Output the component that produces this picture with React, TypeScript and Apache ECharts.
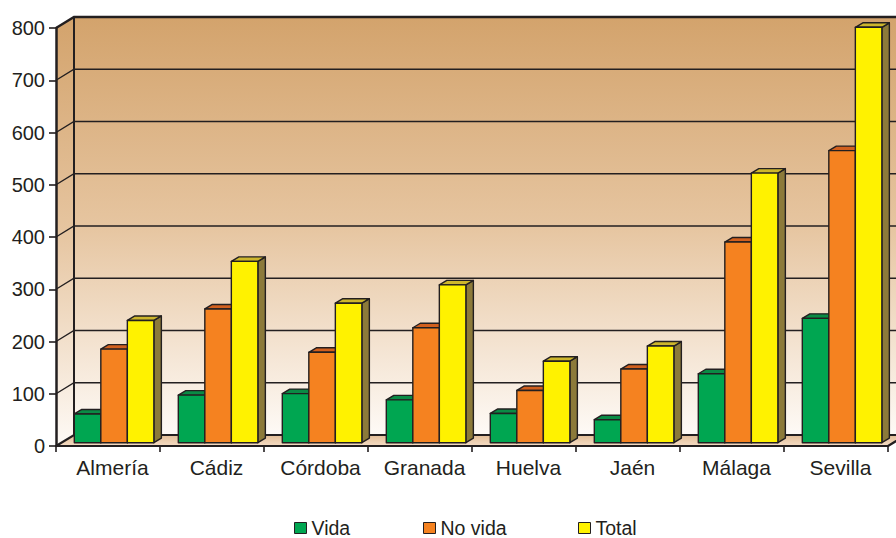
import React, { useEffect, useRef } from "react";
import * as echarts from "echarts";

const categories = ["Almería", "Cádiz", "Córdoba", "Granada", "Huelva", "Jaén", "Málaga", "Sevilla"];
const vida = [55, 91, 94, 82, 56, 44, 132, 238];
const noVida = [179, 256, 173, 220, 100, 141, 384, 559];
const total = [234, 347, 267, 302, 156, 185, 516, 795];
const seriesNames = ["Vida", "No vida", "Total"];
const yTicks = [0, 100, 200, 300, 400, 500, 600, 700, 800];

const FONT = "'Liberation Sans', Arial, Helvetica, sans-serif";
const INK = "#231F20";

const palettes = [
  { front: "#00A651", top: "#0A8B45", side: "#08673A" },
  { front: "#F58220", top: "#D2601E", side: "#A4531C" },
  { front: "#FFF200", top: "#CDB62C", side: "#8C7A3A" },
];

const wallGradient = () =>
  new echarts.graphic.LinearGradient(0, 0, 0, 1, [
    { offset: 0, color: "#D3A36C" },
    { offset: 0.5, color: "#E6C5A0" },
    { offset: 1, color: "#FEFAF6" },
  ]);

export default function App() {
  const ref = useRef<HTMLDivElement>(null);

  useEffect(() => {
    if (!ref.current) return;
    const chart = echarts.init(ref.current, null, { renderer: "svg" });
    const DX = 18;
    const DY = -11;
    const yMax = yTicks[yTicks.length - 1];

    const frameItem = (params: any, api: any) => {
      const cs = params.coordSys;
      const x0 = cs.x;
      const x1 = cs.x + cs.width;
      const y0 = api.coord([0, 0])[1];
      const yT = api.coord([0, yMax])[1];
      const far = x1 + DX + 40;
      const children: any[] = [];
      children.push({
        type: "rect",
        shape: { x: x0 + DX, y: yT + DY, width: far - (x0 + DX), height: y0 - yT },
        style: { fill: wallGradient() },
      });
      children.push({
        type: "polygon",
        shape: { points: [[x0, yT], [x0 + DX, yT + DY], [x0 + DX, y0 + DY], [x0, y0]] },
        style: { fill: wallGradient() },
      });
      children.push({
        type: "polygon",
        shape: { points: [[x0, y0], [x0 + DX, y0 + DY], [x1 + DX, y0 + DY], [x1, y0]] },
        style: {
          fill: new echarts.graphic.LinearGradient(0, 0, 0, 1, [
            { offset: 0, color: "#E3BE98" },
            { offset: 1, color: "#F4DCC4" },
          ]),
        },
      });
      yTicks.forEach((t) => {
        if (t === 0 || t === yMax) return;
        const y = api.coord([0, t])[1];
        children.push({
          type: "polyline",
          shape: { points: [[x0, y], [x0 + DX, y + DY], [far, y + DY]] },
          style: { stroke: INK, lineWidth: 1.4, fill: null },
        });
      });
      children.push({
        type: "line",
        shape: { x1: x0 + DX, y1: yT + DY, x2: x0 + DX, y2: y0 + DY },
        style: { stroke: INK, lineWidth: 2 },
      });
      children.push({
        type: "polyline",
        shape: { points: [[x0, yT], [x0 + DX, yT + DY], [far, yT + DY]] },
        style: { stroke: INK, lineWidth: 2.5, fill: null },
      });
      children.push({
        type: "polyline",
        shape: { points: [[x0, y0], [x0 + DX, y0 + DY], [x1 + DX, y0 + DY], [x1, y0]] },
        style: { stroke: INK, lineWidth: 2.2, fill: null },
      });
      return { type: "group", children };
    };

    const barItem = (k: number) => (params: any, api: any) => {
      const cat = api.value(0);
      const v = api.value(1);
      const base = api.coord([cat, 0]);
      const top = api.coord([cat, v]);
      const band = api.size([1, 0])[0];
      const w = band * 0.255;
      const left = base[0] + band * (-0.324 + 0.255 * k);
      const by = base[1] - 3.3;
      const ty = top[1] - 3.3;
      const dx = 7.5;
      const dy = -4.5;
      const p = palettes[k];
      const stroke = { stroke: INK, lineWidth: 1.4, lineJoin: "round" };
      return {
        type: "group",
        children: [
          {
            type: "polygon",
            shape: { points: [[left + w, ty], [left + w + dx, ty + dy], [left + w + dx, by + dy], [left + w, by]] },
            style: { fill: p.side, ...stroke },
          },
          {
            type: "polygon",
            shape: { points: [[left, ty], [left + dx, ty + dy], [left + w + dx, ty + dy], [left + w, ty]] },
            style: { fill: p.top, ...stroke },
          },
          {
            type: "rect",
            shape: { x: left, y: ty, width: w, height: by - ty },
            style: { fill: p.front, ...stroke },
          },
        ],
      };
    };

    const dataSets = [vida, noVida, total];
    const legendLefts = [294, 423, 578];

    chart.setOption({
      animation: false,
      backgroundColor: "#ffffff",
      textStyle: { fontFamily: FONT },
      grid: { left: 56, right: 8, top: 28, bottom: 92, containLabel: false },
      legend: seriesNames.map((n, i) => ({
        data: [n],
        left: legendLefts[i],
        top: 518,
        padding: 0,
        icon: "rect",
        itemWidth: 12,
        itemHeight: 11,
        itemStyle: { borderColor: INK, borderWidth: 1 },
        textStyle: { fontSize: 19.5, lineHeight: 19, color: INK, fontFamily: FONT },
      })),
      xAxis: {
        type: "category",
        data: categories,
        boundaryGap: true,
        z: 10,
        axisLine: { show: true, lineStyle: { color: INK, width: 2.2 } },
        axisTick: { show: true, length: 6, lineStyle: { color: INK, width: 1.6 } },
        axisLabel: {
          interval: 0,
          hideOverlap: false,
          color: INK,
          fontSize: 21,
          fontFamily: FONT,
          margin: 11,
          padding: [0, 0, 0, 9],
        },
        splitLine: { show: false },
      },
      yAxis: {
        type: "value",
        min: 0,
        max: yMax,
        interval: 100,
        z: 10,
        axisLine: { show: true, lineStyle: { color: INK, width: 2.5 } },
        axisTick: { show: true, length: 7, lineStyle: { color: INK, width: 1.6 } },
        axisLabel: { color: INK, fontSize: 20, fontFamily: FONT, margin: 11 },
        splitLine: { show: false },
      },
      series: [
        {
          type: "custom",
          name: "frame",
          renderItem: frameItem,
          data: [[0, 0]],
          encode: { x: 0, y: 1 },
          z: 0,
          silent: true,
          clip: false,
        },
        ...seriesNames.map((n, k) => ({
          type: "custom",
          name: n,
          renderItem: barItem(k),
          data: dataSets[k].map((v, i) => [i, v]),
          encode: { x: 0, y: 1 },
          itemStyle: { color: palettes[k].front },
          z: 2 + k,
          clip: false,
        })),
      ],
    });

    return () => chart.dispose();
  }, []);

  return (
    <div
      ref={ref}
      style={{ position: "fixed", left: 0, top: 0, width: 896, height: 538, background: "#fff" }}
    />
  );
}
